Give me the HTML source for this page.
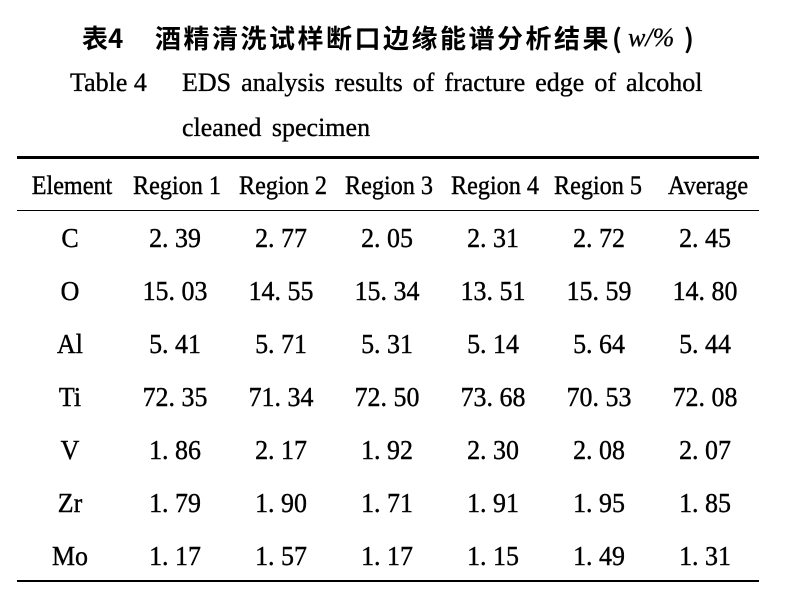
<!DOCTYPE html>
<html>
<head>
<meta charset="utf-8">
<style>
  html,body{margin:0;padding:0;background:#fff;}
  body{width:786px;height:592px;position:relative;overflow:hidden;}
  .t{position:absolute;white-space:nowrap;color:#000;}
  .en{font-family:"Liberation Serif",serif;font-size:26px;line-height:26px;-webkit-text-stroke:0.35px #000;}
  .cj{font-family:"Noto Sans CJK SC","WenQuanYi Zen Hei",sans-serif;font-weight:700;font-size:26px;line-height:26px;}
  .c{position:absolute;width:120px;text-align:center;font-family:"Liberation Serif",serif;font-size:27px;line-height:26px;white-space:nowrap;color:#000;-webkit-text-stroke:0.4px #000;transform:scaleX(0.96);transform-origin:center;}
  .h{font-size:26px;transform:scaleX(0.93);transform-origin:center;}
  .rule{position:absolute;left:17px;width:742px;background:#000;}
</style>
</head>
<body>
<!-- Title -->
<div class="t cj" style="left:82px;top:25px;">表4</div>
<div class="t cj" style="left:155px;top:25px;letter-spacing:2.5px;">酒精清洗试样断口边缘能谱分析结果</div>
<div class="t cj" style="left:612px;top:25px;">(</div>
<div class="t" style="left:628px;top:25px;font-family:'Liberation Serif',serif;font-style:italic;font-size:26px;line-height:26px;-webkit-text-stroke:0.3px #000;">w/%</div>
<div class="t cj" style="left:684px;top:25px;">)</div>

<div class="t en" style="left:70px;top:70px;">Table 4</div>
<div class="t en" style="left:182px;top:70px;word-spacing:3.5px;">EDS analysis results of fracture edge of alcohol</div>
<div class="t en" style="left:182px;top:115px;word-spacing:4px;">cleaned specimen</div>

<!-- Rules -->
<div class="rule" style="top:156px;height:2.5px;"></div>
<div class="rule" style="top:209.5px;height:1.5px;"></div>
<div class="rule" style="top:579.5px;height:2.5px;"></div>

<!-- Header -->
<div class="c h" style="left:12px;top:173px;">Element</div>
<div class="c h" style="left:117px;top:173px;">Region 1</div>
<div class="c h" style="left:223px;top:173px;">Region 2</div>
<div class="c h" style="left:329px;top:173px;">Region 3</div>
<div class="c h" style="left:435px;top:173px;">Region 4</div>
<div class="c h" style="left:538px;top:173px;">Region 5</div>
<div class="c h" style="left:648px;top:173px;">Average</div>

<!-- Row C -->
<div class="c" style="left:10px;top:225px;">C</div>
<div class="c" style="left:115px;top:225px;">2. 39</div>
<div class="c" style="left:221px;top:225px;">2. 77</div>
<div class="c" style="left:327px;top:225px;">2. 05</div>
<div class="c" style="left:433px;top:225px;">2. 31</div>
<div class="c" style="left:539px;top:225px;">2. 72</div>
<div class="c" style="left:645px;top:225px;">2. 45</div>

<!-- Row O -->
<div class="c" style="left:10px;top:278px;">O</div>
<div class="c" style="left:115px;top:278px;">15. 03</div>
<div class="c" style="left:221px;top:278px;">14. 55</div>
<div class="c" style="left:327px;top:278px;">15. 34</div>
<div class="c" style="left:433px;top:278px;">13. 51</div>
<div class="c" style="left:539px;top:278px;">15. 59</div>
<div class="c" style="left:645px;top:278px;">14. 80</div>

<!-- Row Al -->
<div class="c" style="left:10px;top:331px;">Al</div>
<div class="c" style="left:115px;top:331px;">5. 41</div>
<div class="c" style="left:221px;top:331px;">5. 71</div>
<div class="c" style="left:327px;top:331px;">5. 31</div>
<div class="c" style="left:433px;top:331px;">5. 14</div>
<div class="c" style="left:539px;top:331px;">5. 64</div>
<div class="c" style="left:645px;top:331px;">5. 44</div>

<!-- Row Ti -->
<div class="c" style="left:10px;top:384px;">Ti</div>
<div class="c" style="left:115px;top:384px;">72. 35</div>
<div class="c" style="left:221px;top:384px;">71. 34</div>
<div class="c" style="left:327px;top:384px;">72. 50</div>
<div class="c" style="left:433px;top:384px;">73. 68</div>
<div class="c" style="left:539px;top:384px;">70. 53</div>
<div class="c" style="left:645px;top:384px;">72. 08</div>

<!-- Row V -->
<div class="c" style="left:10px;top:437px;">V</div>
<div class="c" style="left:115px;top:437px;">1. 86</div>
<div class="c" style="left:221px;top:437px;">2. 17</div>
<div class="c" style="left:327px;top:437px;">1. 92</div>
<div class="c" style="left:433px;top:437px;">2. 30</div>
<div class="c" style="left:539px;top:437px;">2. 08</div>
<div class="c" style="left:645px;top:437px;">2. 07</div>

<!-- Row Zr -->
<div class="c" style="left:10px;top:490px;">Zr</div>
<div class="c" style="left:115px;top:490px;">1. 79</div>
<div class="c" style="left:221px;top:490px;">1. 90</div>
<div class="c" style="left:327px;top:490px;">1. 71</div>
<div class="c" style="left:433px;top:490px;">1. 91</div>
<div class="c" style="left:539px;top:490px;">1. 95</div>
<div class="c" style="left:645px;top:490px;">1. 85</div>

<!-- Row Mo -->
<div class="c" style="left:10px;top:543px;">Mo</div>
<div class="c" style="left:115px;top:543px;">1. 17</div>
<div class="c" style="left:221px;top:543px;">1. 57</div>
<div class="c" style="left:327px;top:543px;">1. 17</div>
<div class="c" style="left:433px;top:543px;">1. 15</div>
<div class="c" style="left:539px;top:543px;">1. 49</div>
<div class="c" style="left:645px;top:543px;">1. 31</div>
</body>
</html>
